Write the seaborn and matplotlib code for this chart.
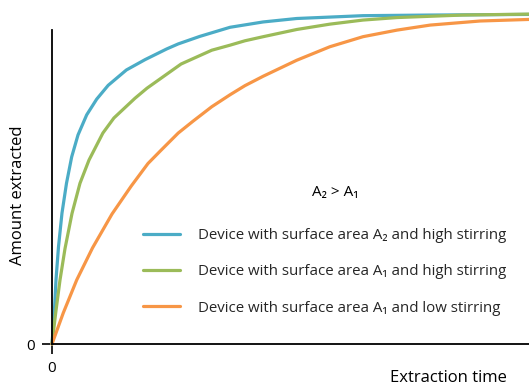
import numpy as np
import pandas as pd
import matplotlib
matplotlib.use("Agg")
import matplotlib.pyplot as plt
import seaborn as sns

# values (time in arbitrary units, amount in % of axis height)
blue_time = [0, 0.048, 0.083, 0.135, 0.208, 0.302, 0.41, 0.542, 0.723, 0.931,
             1.17, 1.55, 1.94, 2.39, 2.63, 3.08, 3.71, 4.40, 5.10, 6.48, 7.88, 9.94]
blue_amount = [0, 9.9, 20.4, 30.9, 41.7, 51.2, 59.6, 66.6, 73.0, 78.0,
               82.4, 87.3, 90.6, 94.0, 95.6, 98.0, 100.9, 102.6, 103.7, 104.6,
               104.8, 105.0]

green_time = [0, 0.077, 0.167, 0.271, 0.417, 0.583, 0.771, 1.06, 1.29, 1.73, 1.98,
              2.69, 3.33, 3.71, 4.02, 4.40, 5.10, 5.79, 6.48, 7.19, 8.56, 9.94]
green_amount = [0, 9.9, 20.4, 30.4, 41.6, 51.2, 58.6, 67.2, 72.0, 78.3, 81.5,
                89.2, 93.6, 95.2, 96.6, 97.9, 100.2, 101.9, 103.2, 104.0, 104.8, 105.1]

orange_time = [0, 0.235, 0.515, 0.844, 1.25, 1.65, 2.0, 2.27, 2.63, 2.94, 3.33,
               3.71, 4.02, 4.40, 5.10, 5.79, 6.48, 7.19, 7.88, 8.92, 9.94]
orange_amount = [0, 9.9, 20.4, 30.6, 41.4, 50.3, 57.5, 61.7, 67.2, 71.0, 75.6,
                 79.4, 82.3, 85.3, 90.4, 94.7, 97.9, 100.0, 101.6, 102.9, 103.4]

labels = [
    "Device with surface area A\u2082 and high stirring",
    "Device with surface area A\u2081 and high stirring",
    "Device with surface area A\u2081 and low stirring",
]
colors = ["#4BACC6", "#9BBB59", "#F79646"]

frames = []
for t, a, lab in zip([blue_time, green_time, orange_time],
                     [blue_amount, green_amount, orange_amount], labels):
    frames.append(pd.DataFrame({"time": t, "amount": a, "device": lab}))
df = pd.concat(frames, ignore_index=True)

sns.set_style("white")
plt.rcParams["font.family"] = ["Open Sans", "DejaVu Sans"]

W, H = 529, 387
fig = plt.figure(figsize=(W / 100, H / 100), dpi=100)
ax = fig.add_axes([52 / W, (H - 344) / H, (W - 52) / W, (344 - 5) / H])

sns.lineplot(data=df, x="time", y="amount", hue="device", palette=colors,
             linewidth=2.3, ax=ax, sort=False, estimator=None, clip_on=False)

ax.set_xlim(0, 9.94)
ax.set_ylim(0, 108)
sns.despine(ax=ax)
ax.spines["left"].set_bounds(0, 100)
for s in ["left", "bottom"]:
    ax.spines[s].set_color("black")
    ax.spines[s].set_linewidth(1.3)

ax.set_xticks([0])
ax.set_yticks([0])
ax.set_xticklabels(["0"])
ax.set_yticklabels(["0"])
ax.tick_params(axis="both", direction="out", length=7.5, width=1.2,
               color="black", labelsize=11, labelcolor="black",
               bottom=True, left=True)
ax.tick_params(axis="x", pad=5)
ax.tick_params(axis="y", pad=5)

ax.set_xlabel("")
ax.set_ylabel("")
fig.text(448 / W, 1 - 378 / H, "Extraction time", ha="center", va="center",
         fontsize=12, color="black")
fig.text(18 / W, 1 - 195 / H, "Amount extracted", ha="center", va="center",
         rotation=90, fontsize=12, color="black")

fig.text(335 / W, 1 - 192 / H, "A\u2082 > A\u2081", ha="center", va="center",
         fontsize=11, color="black")

leg = ax.legend(loc="upper left", bbox_to_anchor=(143 / W, 1 - 228 / H),
                bbox_transform=fig.transFigure, frameon=False, fontsize=10.8,
                handlelength=2.45, handletextpad=1.2, labelspacing=1.42,
                borderpad=0, borderaxespad=0)
for line in leg.get_lines():
    line.set_linewidth(2.3)

fig.savefig("out.png", dpi=100)
